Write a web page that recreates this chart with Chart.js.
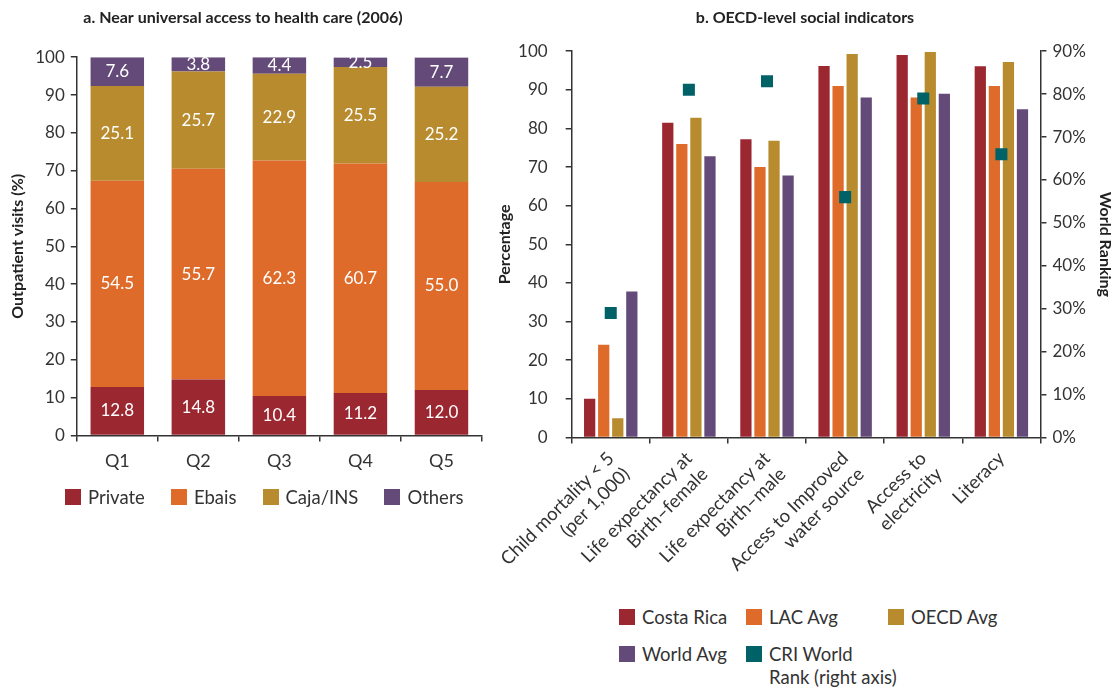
<!DOCTYPE html>
<html>
<head>
<meta charset="utf-8">
<script src="https://cdn.jsdelivr.net/npm/chart.js@4"></script>
<style>
  body { margin: 0; background: #fff; font-family: Lato, sans-serif; }
  #boxA { position: absolute; left: 0; top: 0; width: 492px; height: 489px; }
  #boxB { position: absolute; left: 470px; top: 0; width: 649px; height: 605px; }
  .legend { position: absolute; font: 18.5px Lato, sans-serif; color: #333; }
  #legendA { left: 65px; top: 486px; display: flex; gap: 26px; }
  #legendB { left: 619px; top: 606px; display: grid; grid-template-columns: 127px 142px auto; row-gap: 14px; }
  .legend .item { display: flex; align-items: flex-start; line-height: 23px; }
  .legend .sw { width: 16px; height: 16px; margin: 3px 7px 0 0; flex: none; }
  #legendB .txt { max-width: 118px; }
</style>
</head>
<body>
<div id="boxA"><canvas id="chartA"></canvas></div>
<div id="boxB"><canvas id="chartB"></canvas></div>
<div id="legendA" class="legend"></div>
<div id="legendB" class="legend"></div>
<script>
// a. outpatient visits by quintile (%)
const quintiles = ['Q1', 'Q2', 'Q3', 'Q4', 'Q5'];
const privateShare = [12.8, 14.8, 10.4, 11.2, 12.0];
const ebaisShare = [54.5, 55.7, 62.3, 60.7, 55.0];
const cajaShare = [25.1, 25.7, 22.9, 25.5, 25.2];
const othersShare = [7.6, 3.8, 4.4, 2.5, 7.7];

// b. social indicators
const indicators = [
  ['Child mortality < 5', '(per 1,000)'],
  ['Life expectancy at', 'Birth\u2013female'],
  ['Life expectancy at', 'Birth\u2013male'],
  ['Access to Improved', 'water source'],
  ['Access to', 'electricity'],
  'Literacy'
];
const costaRica = [10, 81.5, 77.2, 96.2, 99, 96.1];
const lacAvg = [24, 76, 70, 91, 88, 91];
const oecdAvg = [5, 82.8, 76.8, 99.3, 99.8, 97.2];
const worldAvg = [37.8, 72.8, 67.8, 88, 89, 85];
const criRank = [29, 81, 83, 56, 79, 66];

const textColor = '#333';
const axisColor = '#333';
Chart.defaults.font.family = 'Lato, sans-serif';
Chart.defaults.font.size = 17;
Chart.defaults.color = textColor;

const segmentLabels = {
  id: 'segmentLabels',
  afterDatasetsDraw(chart) {
    const ctx = chart.ctx;
    ctx.save();
    ctx.font = '17px Lato, sans-serif';
    ctx.fillStyle = '#fff';
    ctx.textAlign = 'center';
    ctx.textBaseline = 'middle';
    chart.data.datasets.forEach((ds, i) => {
      chart.getDatasetMeta(i).data.forEach((bar, j) => {
        ctx.fillText(ds.data[j].toFixed(1), bar.x, (bar.y + bar.base) / 2);
      });
    });
    ctx.restore();
  }
};

function axisGrid() {
  return { display: true, drawOnChartArea: false, tickLength: 6, color: axisColor, lineWidth: 1.5 };
}

const chartA = new Chart(document.getElementById('chartA'), {
  type: 'bar',
  data: {
    labels: quintiles,
    datasets: [
      { label: 'Private', data: privateShare, backgroundColor: '#9b2730' },
      { label: 'Ebais', data: ebaisShare, backgroundColor: '#de6b2a' },
      { label: 'Caja/INS', data: cajaShare, backgroundColor: '#b88b2e' },
      { label: 'Others', data: othersShare, backgroundColor: '#634a78' }
    ]
  },
  options: {
    responsive: true,
    maintainAspectRatio: false,
    animation: false,
    layout: { padding: { left: 4, right: 10, top: 0, bottom: 8 } },
    datasets: { bar: { barPercentage: 0.66, categoryPercentage: 1 } },
    plugins: {
      title: {
        display: true,
        text: 'a. Near universal access to health care (2006)',
        font: { size: 16, weight: 'bold' },
        color: '#222',
        padding: { top: 8, bottom: 30 }
      },
      legend: { display: false },
      tooltip: { enabled: false }
    },
    scales: {
      x: {
        stacked: true,
        grid: axisGrid(),
        border: { color: axisColor, width: 1.5 },
        ticks: { padding: 9, font: { size: 18 } }
      },
      y: {
        stacked: true,
        min: 0,
        max: 100,
        grid: axisGrid(),
        border: { color: axisColor, width: 1.5 },
        ticks: { stepSize: 10, padding: 6 },
        title: {
          display: true,
          text: 'Outpatient visits (%)',
          font: { size: 16, weight: 'bold' },
          color: '#222',
          padding: { top: 4, bottom: 2 }
        }
      }
    }
  },
  plugins: [segmentLabels]
});

const chartB = new Chart(document.getElementById('chartB'), {
  type: 'bar',
  data: {
    labels: indicators,
    datasets: [
      { type: 'line', label: 'CRI World Rank\u00a0(right\u00a0axis)', data: criRank, yAxisID: 'y1',
        showLine: false, pointStyle: 'rect', pointRadius: 8.5, pointBackgroundColor: '#006266',
        pointBorderWidth: 0, backgroundColor: '#006266', order: 0 },
      { label: 'Costa Rica', data: costaRica, backgroundColor: '#9b2730', order: 1 },
      { label: 'LAC Avg', data: lacAvg, backgroundColor: '#de6b2a', order: 1 },
      { label: 'OECD Avg', data: oecdAvg, backgroundColor: '#b88b2e', order: 1 },
      { label: 'World Avg', data: worldAvg, backgroundColor: '#634a78', order: 1 }
    ]
  },
  options: {
    responsive: true,
    maintainAspectRatio: false,
    animation: false,
    layout: { padding: { left: 21, right: 0, top: 0, bottom: 10 } },
    datasets: { bar: { barPercentage: 0.8, categoryPercentage: 0.72 } },
    plugins: {
      title: {
        display: true,
        text: 'b. OECD-level social indicators',
        font: { size: 16, weight: 'bold' },
        color: '#222',
        padding: { top: 8, bottom: 24 }
      },
      legend: { display: false },
      tooltip: { enabled: false }
    },
    scales: {
      x: {
        grid: axisGrid(),
        border: { color: axisColor, width: 1.5 },
        ticks: { minRotation: 45, maxRotation: 45, padding: 4, font: { size: 18.5 } }
      },
      y: {
        position: 'left',
        min: 0,
        max: 100,
        grid: axisGrid(),
        border: { color: axisColor, width: 1.5 },
        ticks: { stepSize: 10, padding: 18 },
        title: {
          display: true,
          text: 'Percentage',
          font: { size: 16, weight: 'bold' },
          color: '#222',
          padding: { top: 4.5, bottom: -14.6 }
        }
      },
      y1: {
        position: 'right',
        min: 0,
        max: 90,
        grid: axisGrid(),
        border: { color: axisColor, width: 1.5 },
        ticks: { stepSize: 10, padding: 6, callback: v => v + '%' },
        title: { display: true, text: 'World Ranking', font: { size: 16, weight: 'bold' }, color: '#222' }
      }
    }
  }
});

// HTML legends, built from the charts' datasets
function buildLegend(el, chart, names) {
  names.forEach(name => {
    const ds = chart.data.datasets.find(d => d.label === name);
    const item = document.createElement('div');
    item.className = 'item';
    item.innerHTML = '<span class="sw" style="background:' + ds.backgroundColor + '"></span><span class="txt">' + ds.label + '</span>';
    el.appendChild(item);
  });
}
buildLegend(document.getElementById('legendA'), chartA, ['Private', 'Ebais', 'Caja/INS', 'Others']);
buildLegend(document.getElementById('legendB'), chartB,
  ['Costa Rica', 'LAC Avg', 'OECD Avg', 'World Avg', 'CRI World Rank\u00a0(right\u00a0axis)']);
</script>
</body>
</html>
